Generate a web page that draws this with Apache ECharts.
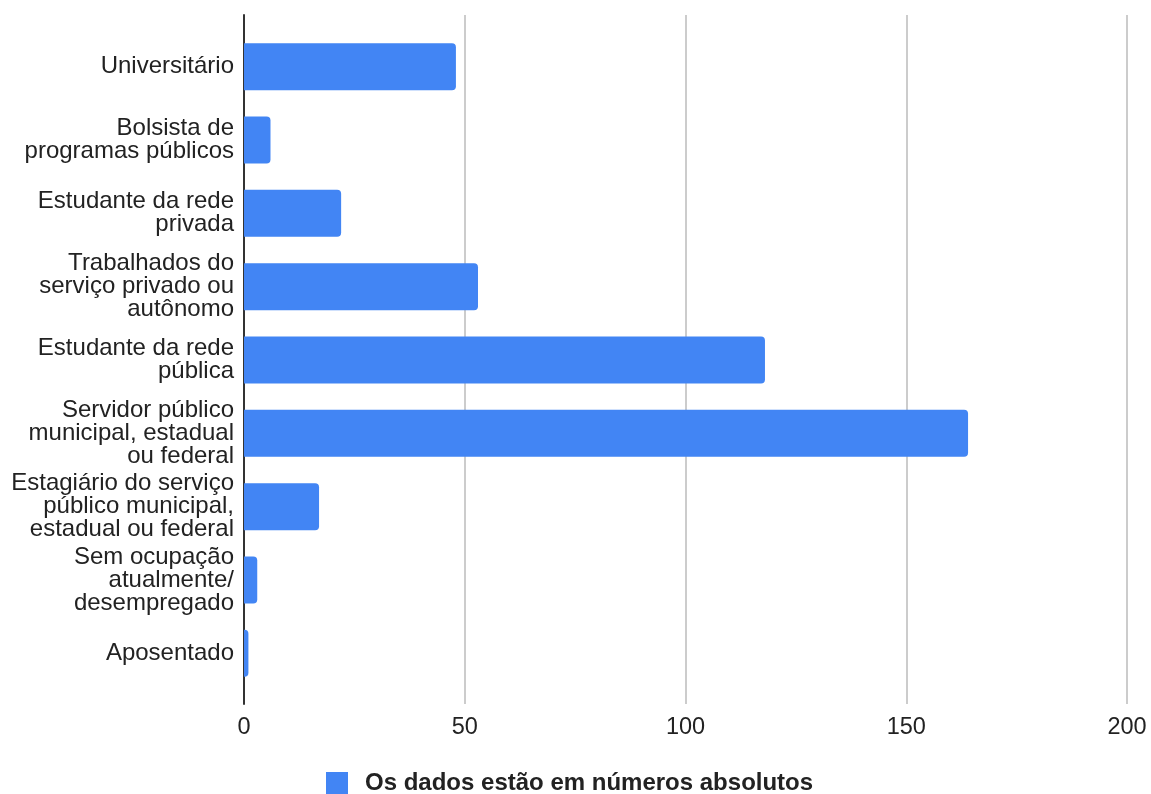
<!DOCTYPE html>
<html>
<head>
<meta charset="utf-8">
<style>html,body{margin:0;padding:0;background:#fff;}#chart{width:1151px;height:794px;}</style>
<script src="https://cdn.jsdelivr.net/npm/echarts@6/dist/echarts.min.js"></script>
</head>
<body>
<div id="chart"></div>
<script>
const categories = [
  "Universitário",
  "Bolsista de\nprogramas públicos",
  "Estudante da rede\nprivada",
  "Trabalhados do\nserviço privado ou\nautônomo",
  "Estudante da rede\npública",
  "Servidor público\nmunicipal, estadual\nou federal",
  "Estagiário do serviço\npúblico municipal,\nestadual ou federal",
  "Sem ocupação\natualmente/\ndesempregado",
  "Aposentado"
];
const values = [48, 6, 22, 53, 118, 164, 17, 3, 1];
const seriesName = "Os dados estão em números absolutos";
const xTicks = [0, 50, 100, 150, 200];

const FONT = 'Liberation Sans, Arial, sans-serif';
const chart = echarts.init(document.getElementById('chart'));
chart.setOption({
  animation: false,
  textStyle: { fontFamily: FONT },
  grid: [
    { left: 244, right: 24, top: 30, bottom: 104, containLabel: false },
    { left: 244, right: 24, top: 15, bottom: 90, containLabel: false }
  ],
  legend: {
    left: 326,
    top: 771,
    padding: 0,
    itemWidth: 22,
    itemHeight: 22,
    icon: 'rect',
    textStyle: { fontSize: 24, fontWeight: 'bold', color: '#222', fontFamily: FONT, padding: [0, 0, 0, 12] },
    data: [seriesName]
  },
  xAxis: [
    {
      gridIndex: 0, type: 'value',
      min: xTicks[0], max: xTicks[xTicks.length - 1], interval: 50,
      show: false
    },
    {
      gridIndex: 1, type: 'value',
      min: xTicks[0], max: xTicks[xTicks.length - 1], interval: 50,
      axisLine: { show: false },
      axisTick: { show: false },
      splitLine: { lineStyle: { color: '#cccccc', width: 2 } },
      axisLabel: { fontSize: 23.5, color: '#222', margin: 12, fontFamily: FONT }
    }
  ],
  yAxis: [
    {
      gridIndex: 0, type: 'category', inverse: true, data: categories,
      axisLine: { show: false },
      axisTick: { show: false },
      splitLine: { show: false },
      axisLabel: { fontSize: 24, color: '#222', lineHeight: 23, margin: 10, align: 'right', fontFamily: FONT }
    },
    {
      gridIndex: 1, type: 'value', min: 0, max: 1,
      axisLine: { show: true, lineStyle: { color: '#333', width: 2 } },
      axisTick: { show: false },
      axisLabel: { show: false },
      splitLine: { show: false }
    }
  ],
  series: [{
    name: seriesName,
    type: 'bar',
    xAxisIndex: 0,
    yAxisIndex: 0,
    data: values,
    barWidth: '64%',
    z: 3,
    itemStyle: { color: '#4285f4', borderRadius: [0, 4, 4, 0] }
  }]
});
</script>
</body>
</html>
